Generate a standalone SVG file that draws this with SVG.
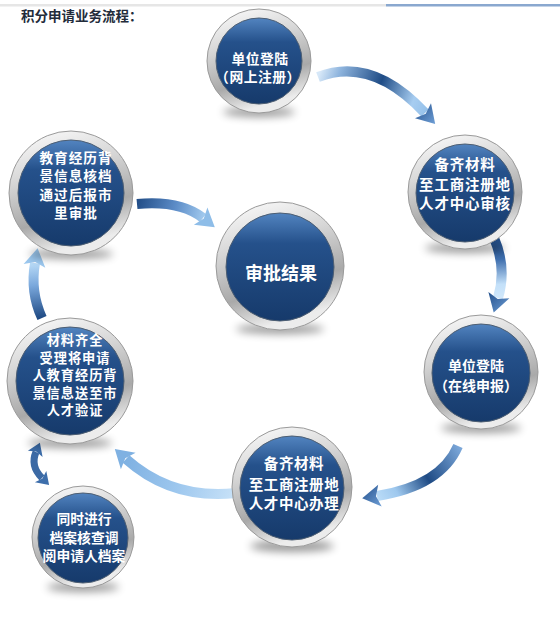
<svg xmlns="http://www.w3.org/2000/svg" width="560" height="631" viewBox="0 0 560 631">
<defs>
<style>
.t{font-family:"Noto Sans CJK SC","Noto Sans",sans-serif;font-weight:bold;fill:#ffffff;text-anchor:middle;dominant-baseline:central}
.ring{fill:url(#ring);stroke:#9a9a9a;stroke-width:1}
.core{fill:url(#core);stroke:#4d5e72;stroke-width:1}
.shadow{fill:#000;opacity:0.4;filter:url(#blur)}
.body{fill:none;stroke-width:10;stroke-linecap:butt}
</style>
<linearGradient id="ring" x1="0" y1="0" x2="0.3" y2="1">
<stop offset="0" stop-color="#ffffff"/>
<stop offset="0.4" stop-color="#d6d6d6"/>
<stop offset="0.75" stop-color="#a9a9a9"/>
<stop offset="1" stop-color="#ececec"/>
</linearGradient>
<linearGradient id="core" x1="0" y1="0" x2="0" y2="1">
<stop offset="0" stop-color="#5284c0"/>
<stop offset="0.28" stop-color="#25518b"/>
<stop offset="1" stop-color="#163a6b"/>
</linearGradient>
<filter id="blur" x="-50%" y="-100%" width="200%" height="300%"><feGaussianBlur stdDeviation="4"/></filter>
<linearGradient id="gA" gradientUnits="userSpaceOnUse" x1="318" y1="77" x2="432" y2="120">
<stop offset="0" stop-color="#d7e8f8"/><stop offset="0.15" stop-color="#8fb5de"/><stop offset="0.5" stop-color="#1f4c86"/><stop offset="0.8" stop-color="#a7cdf1"/><stop offset="1" stop-color="#8dbbe6"/>
</linearGradient>
<linearGradient id="gB" gradientUnits="userSpaceOnUse" x1="494" y1="238" x2="498" y2="300">
<stop offset="0" stop-color="#1f4a84"/><stop offset="0.35" stop-color="#3f6fae"/><stop offset="0.75" stop-color="#c3e0f9"/><stop offset="1" stop-color="#d2e8fb"/>
</linearGradient>
<linearGradient id="gC" gradientUnits="userSpaceOnUse" x1="458" y1="446" x2="377" y2="496">
<stop offset="0" stop-color="#7aa6d8"/><stop offset="0.45" stop-color="#1f4b85"/><stop offset="0.8" stop-color="#9ec8ee"/><stop offset="1" stop-color="#b9dbf7"/>
</linearGradient>
<linearGradient id="gD" gradientUnits="userSpaceOnUse" x1="236" y1="493" x2="126" y2="459">
<stop offset="0" stop-color="#c8e2f8"/><stop offset="0.5" stop-color="#9dc7ee"/><stop offset="1" stop-color="#7fb1e2"/>
</linearGradient>
<linearGradient id="gE" gradientUnits="userSpaceOnUse" x1="42" y1="318" x2="35" y2="263">
<stop offset="0" stop-color="#1f4a84"/><stop offset="0.6" stop-color="#7aa8dc"/><stop offset="1" stop-color="#b8daf6"/>
</linearGradient>
<linearGradient id="gG" gradientUnits="userSpaceOnUse" x1="137" y1="204" x2="205" y2="220">
<stop offset="0" stop-color="#224e88"/><stop offset="0.55" stop-color="#5d8dc8"/><stop offset="1" stop-color="#a5cdf0"/>
</linearGradient>
<linearGradient id="head" x1="0" y1="0" x2="1" y2="1">
<stop offset="0" stop-color="#23508c"/><stop offset="1" stop-color="#6f9fd6"/>
</linearGradient>
</defs>

<rect x="0" y="0" width="560" height="631" fill="#ffffff"/>
<rect x="0" y="4" width="386" height="2.5" fill="#e6e6e6"/>
<rect x="386" y="4" width="174" height="2.5" fill="#8aa8cf"/>
<text x="21" y="21" font-family="'Noto Sans CJK SC','Noto Sans',sans-serif" font-size="13.5" font-weight="bold" fill="#222b3a">积分申请业务流程：</text>

<g id="connectors">
<path class="body" stroke="url(#gA)" d="M318,77 Q372,56 425,113"/>
<polygon fill="url(#head)" points="435.2,124 415,118.3 425.7,113.7 431,103.3"/>
<path class="body" stroke="url(#gB)" d="M494,238 Q507,268 498,298"/>
<polygon fill="url(#head)" points="493.7,312.4 488.4,291.9 497.7,299 509.4,298.3"/>
<path class="body" stroke="url(#gC)" d="M458,446 C445,476 415,490 377,496"/>
<polygon fill="url(#head)" points="362.2,498.3 378.2,484.7 376,496.2 381.7,506.4"/>
<path class="body" stroke="url(#gD)" d="M236,493 Q172,500 126,459"/>
<polygon fill="#7fb1e2" points="114.8,449 135.6,452.8 125.3,458.3 120.9,469.2"/>
<path class="body" stroke="url(#gE)" d="M42,318 Q30,292 35,263"/>
<polygon fill="#9cc8ef" points="37.6,248.2 45.3,267.8 35.2,262 23.6,264.1"/>
<path fill="none" stroke="#3c6aa5" stroke-width="7" d="M36,452 Q30,466 42,478"/>
<polygon fill="#3d6eab" points="39.9,442.8 42.6,457 36.2,451.5 27.9,450.7"/>
<polygon fill="#3d6eab" points="49.1,485.1 34.9,482.2 42.4,478.4 46.3,470.9"/>
<path class="body" stroke="url(#gG)" d="M137,204 Q180,200 203,218"/>
<polygon fill="#8ebde8" points="214.8,227.2 193.9,224.8 203.8,218.6 207.4,207.5"/>
</g>

<g id="n1">
<ellipse class="shadow" cx="259" cy="112" rx="36" ry="5"/>
<circle class="ring" cx="259" cy="61" r="52"/>
<circle class="core" cx="259" cy="61" r="43"/>
<text class="t" font-size="13.8" letter-spacing="0.5"><tspan x="260" y="57.5">单位登陆</tspan><tspan x="258" y="76">（网上注册）</tspan></text>
</g>

<g id="n2">
<ellipse class="shadow" cx="465" cy="248" rx="40" ry="5"/>
<circle class="ring" cx="465" cy="192" r="57"/>
<circle class="core" cx="465" cy="193" r="49"/>
<text class="t" font-size="14.5" letter-spacing="0.8"><tspan x="465" y="163">备齐材料</tspan><tspan x="465" y="183">至工商注册地</tspan><tspan x="465" y="202">人才中心审核</tspan></text>
</g>

<g id="n3">
<ellipse class="shadow" cx="71" cy="254" rx="42" ry="5"/>
<circle class="ring" cx="71" cy="193" r="62"/>
<circle class="core" cx="71" cy="193" r="53"/>
<text class="t" font-size="13.6" letter-spacing="1"><tspan x="76" y="156.5">教育经历背</tspan><tspan x="76" y="175">景信息核档</tspan><tspan x="76" y="193.5">通过后报市</tspan><tspan x="76" y="212">里审批</tspan></text>
</g>

<g id="n4">
<ellipse class="shadow" cx="280" cy="329" rx="44" ry="5"/>
<circle class="ring" cx="280" cy="266" r="64"/>
<circle class="core" cx="280" cy="267" r="54"/>
<text class="t" font-size="18" x="281" y="272">审批结果</text>
</g>

<g id="n5">
<ellipse class="shadow" cx="481" cy="428" rx="40" ry="5"/>
<circle class="ring" cx="481" cy="372" r="57"/>
<circle class="core" cx="481" cy="373" r="49"/>
<text class="t" font-size="14"><tspan x="476" y="365">单位登陆</tspan><tspan x="476" y="385">（在线申报）</tspan></text>
</g>

<g id="n6">
<ellipse class="shadow" cx="292" cy="546" rx="42" ry="6"/>
<circle class="ring" cx="292" cy="487" r="60"/>
<circle class="core" cx="292" cy="488" r="52"/>
<text class="t" font-size="14.5" letter-spacing="0.6"><tspan x="294" y="462">备齐材料</tspan><tspan x="294" y="483">至工商注册地</tspan><tspan x="294" y="502">人才中心办理</tspan></text>
</g>

<g id="n7">
<ellipse class="shadow" cx="70" cy="443" rx="42" ry="5"/>
<circle class="ring" cx="70" cy="381" r="63"/>
<circle class="core" cx="70" cy="381" r="54"/>
<text class="t" font-size="13.2" letter-spacing="1"><tspan x="75" y="339">材料齐全</tspan><tspan x="75" y="356.5">受理将申请</tspan><tspan x="75" y="374">人教育经历背</tspan><tspan x="75" y="391.5">景信息送至市</tspan><tspan x="75" y="409">人才验证</tspan></text>
</g>

<g id="n8">
<ellipse class="shadow" cx="83" cy="587" rx="36" ry="5"/>
<circle class="ring" cx="83" cy="537" r="51"/>
<circle class="core" cx="83" cy="538" r="45"/>
<text class="t" font-size="13.8"><tspan x="84" y="518">同时进行</tspan><tspan x="84" y="536.5">档案核查调</tspan><tspan x="84" y="555">阅申请人档案</tspan></text>
</g>
</svg>
